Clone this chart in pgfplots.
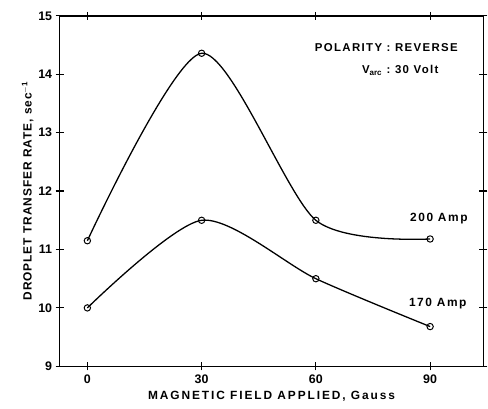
\documentclass[border=0pt]{standalone}
\usepackage{fontspec}
\setmainfont{Liberation Sans}
\usepackage{pgfplots}
\pgfplotsset{compat=1.18}

\begin{document}
\begin{tikzpicture}
\begin{axis}[
    scale only axis,
    width=427pt, height=353pt,
    xmin=-7.3, xmax=104,
    ymin=9, ymax=15,
    xtick={0,30,60,90},
    ytick={9,10,...,15},
    tick align=center,
    major tick length=8pt,
    axis line style={line width=1.4pt},
    tick style={line width=1.2pt, black},
    /pgf/number format/assume math mode=true,
    ticklabel style={font=\bfseries\fontsize{12.5}{14}\selectfont},
    xticklabel style={yshift=-1pt},
    xlabel={MAGNETIC FIELD APPLIED, Gauss},
    ylabel={DROPLET TRANSFER RATE, sec$^{\mathbf{-1}}$},
    xlabel style={font=\bfseries\fontsize{12}{14}\selectfont\addfontfeature{LetterSpace=16}, yshift=-1pt},
    ylabel style={font=\bfseries\fontsize{12}{14}\selectfont\addfontfeature{LetterSpace=8}, yshift=-2pt},
    clip=false,
]

% 200 Amp
\addplot[black, line width=1.3pt, smooth, tension=0.45, mark=o, mark size=3.2pt,
    mark options={fill=white, line width=1pt}]
    coordinates {(0,11.15) (30,14.36) (60,11.5) (90,11.18)};

% 170 Amp
\addplot[black, line width=1.3pt, smooth, tension=0.45, mark=o, mark size=3.2pt,
    mark options={fill=white, line width=1pt}]
    coordinates {(0,10.0) (30,11.5) (60,10.5) (90,9.68)};

\node[font=\bfseries\fontsize{12}{14}\selectfont\addfontfeature{LetterSpace=13}] at (axis cs:92.3,11.53) {200 Amp};
\node[font=\bfseries\fontsize{12}{14}\selectfont\addfontfeature{LetterSpace=13}] at (axis cs:92.0,10.07) {170 Amp};
\node[font=\bfseries\fontsize{11.5}{22}\selectfont\addfontfeature{LetterSpace=12}, inner sep=0pt] at (axis cs:78.5,14.27)
    {\begin{tabular}{r@{\ :\ }l}POLARITY & REVERSE\\ V$_{\mathbf{arc}}$ & 30 Volt\end{tabular}};
\end{axis}
\path ([shift={(-60pt,-43pt)}]current axis.south west)
    rectangle ([shift={(1pt,16pt)}]current axis.north east);
\end{tikzpicture}
\end{document}
